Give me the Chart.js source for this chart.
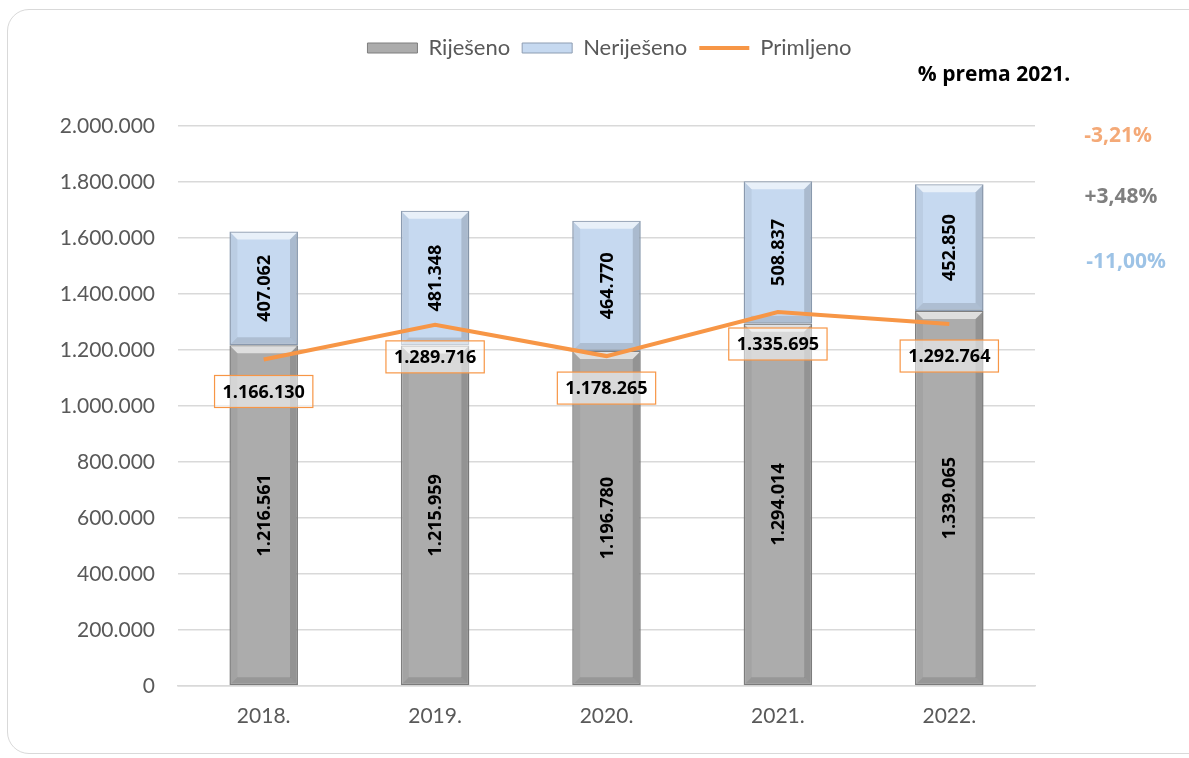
<!DOCTYPE html>
<html>
<head>
<meta charset="utf-8">
<script src="https://cdn.jsdelivr.net/npm/chart.js@4"></script>
<style>
  html, body { margin: 0; padding: 0; background: #fff; overflow: hidden; }
  #frame {
    position: absolute; left: 7px; top: 9px; width: 1240px; height: 745px;
    border: 1.5px solid #d9d9d9; border-radius: 22px; box-sizing: border-box;
  }
  #wrap { position: absolute; left: 0; top: 0; width: 1189px; height: 758px; }
</style>
</head>
<body>
<div id="frame"></div>
<div id="wrap"><canvas id="chart"></canvas></div>
<script>
// values
const years = ['2018.', '2019.', '2020.', '2021.', '2022.'];
const rijeseno = [1216561, 1215959, 1196780, 1294014, 1339065];
const nerijeseno = [407062, 481348, 464770, 508837, 452850];
const primljeno = [1166130, 1289716, 1178265, 1335695, 1292764];

const yMin = 0;
const yMax = 2000000;
const yStep = 200000;

const pctTitle = '% prema 2021.';
const pctLabels = ['-3,21%', '+3,48%', '-11,00%'];
const pctColors = ['#f4a977', '#7f7f7f', '#9dc3e6'];

const FONT = 'Lato, "Open Sans", sans-serif';
const BOLD_FONT = '"Open Sans", Lato, sans-serif';

function fmt(n) {
    return String(n).replace(/\B(?=(\d{3})+(?!\d))/g, '.');
}

// bevel look of the excel bars
const bevelPlugin = {
    id: 'bevel',
    afterDatasetDraw(chart, args) {
        const meta = args.meta;
        if (meta.type !== 'bar') return;
        const ctx = chart.ctx;
        const b = 8;
        meta.data.forEach(bar => {
            const p = bar.getProps(['x', 'y', 'base', 'width'], true);
            const l = p.x - p.width / 2, r = p.x + p.width / 2;
            const t = Math.min(p.y, p.base), btm = Math.max(p.y, p.base);
            const poly = (pts, color) => {
                ctx.beginPath();
                ctx.moveTo(pts[0][0], pts[0][1]);
                for (let i = 1; i < pts.length; i++) ctx.lineTo(pts[i][0], pts[i][1]);
                ctx.closePath();
                ctx.fillStyle = color;
                ctx.fill();
            };
            ctx.save();
            poly([[l + 1, t + 1], [r - 1, t + 1], [r - b, t + b], [l + b, t + b]], 'rgba(255,255,255,0.6)');
            poly([[l + 1, btm - 1], [r - 1, btm - 1], [r - b, btm - b], [l + b, btm - b]], 'rgba(0,0,0,0.12)');
            poly([[l + 1, t + 1], [l + b, t + b], [l + b, btm - b], [l + 1, btm - 1]], 'rgba(0,0,0,0.05)');
            poly([[r - 1, t + 1], [r - b, t + b], [r - b, btm - b], [r - 1, btm - 1]], 'rgba(0,0,0,0.14)');
            ctx.restore();
        });
    }
};

const labelPlugin = {
    id: 'valueLabels',
    afterDatasetsDraw(chart) {
        const ctx = chart.ctx;
        ctx.save();
        chart.data.datasets.forEach((ds, di) => {
            const meta = chart.getDatasetMeta(di);
            if (meta.type === 'bar') {
                meta.data.forEach((bar, i) => {
                    const p = bar.getProps(['x', 'y', 'base'], true);
                    ctx.save();
                    ctx.translate(p.x, (p.y + p.base) / 2);
                    ctx.rotate(-Math.PI / 2);
                    ctx.font = 'bold 18px ' + BOLD_FONT;
                    ctx.fillStyle = '#000';
                    ctx.textAlign = 'center';
                    ctx.textBaseline = 'middle';
                    ctx.fillText(fmt(ds.data[i]), 0, 1);
                    ctx.restore();
                });
            } else {
                meta.data.forEach((pt, i) => {
                    const txt = fmt(ds.data[i]);
                    ctx.font = 'bold 18px ' + BOLD_FONT;
                    const w = ctx.measureText(txt).width + 16;
                    const h = 32;
                    const cx = pt.x, cy = pt.y + 32;
                    ctx.fillStyle = 'rgba(255,255,255,0.55)';
                    ctx.fillRect(cx - w / 2, cy - h / 2, w, h);
                    ctx.strokeStyle = '#f79646';
                    ctx.lineWidth = 1.2;
                    ctx.strokeRect(cx - w / 2, cy - h / 2, w, h);
                    ctx.fillStyle = '#000';
                    ctx.textAlign = 'center';
                    ctx.textBaseline = 'middle';
                    ctx.fillText(txt, cx, cy + 1);
                });
            }
        });

        // side notes
        ctx.textAlign = 'center';
        ctx.textBaseline = 'middle';
        ctx.font = 'bold 21px ' + BOLD_FONT;
        ctx.fillStyle = '#000';
        ctx.fillText(pctTitle, 994, 75);
        const ys = [136, 197, 262];
        const xs = [1118, 1121, 1126];
        pctLabels.forEach((t, i) => {
            ctx.fillStyle = pctColors[i];
            ctx.fillText(t, xs[i], ys[i]);
        });
        ctx.restore();
    }
};

const ctx = document.getElementById('chart').getContext('2d');
new Chart(ctx, {
    data: {
        labels: years,
        datasets: [
            {
                type: 'bar',
                label: 'Riješeno',
                data: rijeseno,
                backgroundColor: '#acacac',
                borderColor: '#7f7f7f',
                borderWidth: 1.5,
                borderSkipped: false,
                categoryPercentage: 0.4,
                barPercentage: 1,
                xAxisID: 'x',
                yAxisID: 'y',
                order: 1
            },
            {
                type: 'bar',
                label: 'Nerije\u0161eno',
                data: nerijeseno,
                backgroundColor: '#c6d9f0',
                borderColor: '#8d9db2',
                borderWidth: 1.5,
                borderSkipped: false,
                categoryPercentage: 0.4,
                barPercentage: 1,
                xAxisID: 'x',
                yAxisID: 'y',
                order: 1
            },
            {
                type: 'line',
                label: 'Primljeno',
                data: primljeno,
                borderColor: '#f79646',
                backgroundColor: '#f79646',
                borderWidth: 4,
                pointRadius: 0,
                tension: 0,
                stack: 'line',
                xAxisID: 'x',
                yAxisID: 'y',
                order: 0
            }
        ]
    },
    options: {
        responsive: true,
        maintainAspectRatio: false,
        animation: false,
        devicePixelRatio: 1,
        layout: { padding: { top: 25, left: 30, right: 0, bottom: 0 } },
        plugins: {
            legend: {
                display: true,
                position: 'top',
                labels: {
                    usePointStyle: true,
                    pointStyleWidth: 50,
                    boxHeight: 10,
                    padding: 12,
                    color: '#595959',
                    font: { family: FONT, size: 22 },
                    sort: (a, b) => a.datasetIndex - b.datasetIndex,
                    generateLabels(chart) {
                        const items = Chart.defaults.plugins.legend.labels.generateLabels(chart);
                        items.forEach(it => {
                            const ds = chart.data.datasets[it.datasetIndex];
                            if (ds.type === 'line') {
                                it.pointStyle = 'line';
                                it.lineWidth = 4;
                                it.strokeStyle = ds.borderColor;
                            } else {
                                it.pointStyle = 'rect';
                                it.lineWidth = 1;
                                it.fillStyle = ds.backgroundColor;
                                it.strokeStyle = ds.borderColor;
                            }
                        });
                        return items;
                    }
                }
            },
            tooltip: { enabled: false }
        },
        scales: {
            x: {
                type: 'category',
                position: 'bottom',
                stacked: true,
                grid: { display: false, drawTicks: false },
                border: { display: true, color: '#d9d9d9', width: 1.5 },
                ticks: {
                    color: '#595959',
                    padding: 18,
                    font: { family: FONT, size: 21 }
                },
                afterFit(scale) { scale.height = 72; }
            },
            xTop: {
                type: 'category',
                position: 'top',
                display: true,
                grid: { display: false, drawTicks: false },
                border: { display: false },
                ticks: { display: false },
                afterFit(scale) { scale.height = 57; }
            },
            y: {
                type: 'linear',
                position: 'left',
                stacked: true,
                min: yMin,
                max: yMax,
                ticks: {
                    stepSize: yStep,
                    color: '#595959',
                    padding: 23,
                    font: { family: FONT, size: 21 },
                    callback: v => fmt(v)
                },
                grid: { color: '#d9d9d9', lineWidth: 1.5, drawTicks: false },
                border: { display: false },
                afterFit(scale) { scale.width = 148; }
            },
            yR: {
                type: 'linear',
                axis: 'y',
                position: 'right',
                display: true,
                grid: { display: false, drawTicks: false },
                border: { display: false },
                ticks: { display: false },
                afterFit(scale) { scale.width = 154; }
            }
        }
    },
    plugins: [bevelPlugin, labelPlugin]
});
</script>
</body>
</html>
